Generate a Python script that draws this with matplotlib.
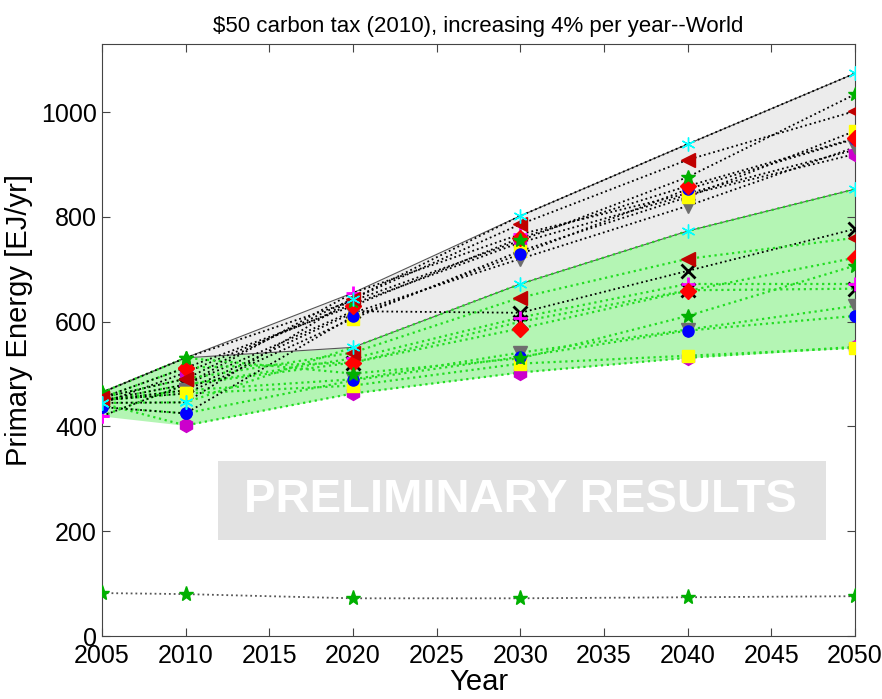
import numpy as np
import matplotlib as mpl
mpl.use('Agg')
import matplotlib.pyplot as plt
from matplotlib.patches import Rectangle

plt.rcParams['font.family'] = ['Liberation Sans', 'DejaVu Sans']
plt.rcParams['hatch.color'] = '#c4c4c4'
plt.rcParams['hatch.linewidth'] = 0.6

years = [2005, 2010, 2020, 2030, 2040, 2050]

## reference runs (black dotted) and policy runs (green dotted), EJ/yr
ref_cyan    = [445, 446, 644, 802, 939, 1074]
pol_cyan    = [445, 446, 551, 672, 773, 853]
ref_redtri  = [455, 491, 644, 786, 909, 1002]
pol_redtri  = [455, 491, 541, 646, 720, 760]
ref_green   = [465, 531, 640, 755, 876, 1034]
pol_green   = [465, 531, 501, 530, 611, 707]
ref_diamond = [455, 512, 630, 760, 859, 950]
pol_diamond = [455, 512, 522, 587, 659, 722]
ref_blue    = [437, 425, 610, 729, 853, 949]
pol_blue    = [437, 425, 488, 533, 583, 611]
ref_yellow  = [450, 463, 606, 735, 838, 964]
pol_yellow  = [450, 463, 478, 520, 535, 550]
ref_gray    = [450, 469, 617, 720, 821, 933]
pol_gray    = [450, 469, 490, 541, 585, 630]
ref_maghex  = [444, 503, 634, 751, 842, 920]
pol_maghex  = [444, 402, 463, 503, 531, 552]
ref_plus    = [420, 480, 655, 767, 845, 928]
pol_plus    = [420, 480, 530, 608, 672, 672]
ref_x       = [450, 480, 620, 617, 697, 777]
pol_x       = [450, 480, 522, 600, 660, 663]
other_green = [82, 80, 72, 72, 74, 76]

models = [
  (ref_x, pol_x, 'x', 'k'),
  (ref_plus, pol_plus, '+', '#ff00ff'),
  (ref_maghex, pol_maghex, 'h', '#cc00cc'),
  (ref_gray, pol_gray, 'v', '#6e6e6e'),
  (ref_yellow, pol_yellow, 's', '#ffff00'),
  (ref_blue, pol_blue, 'o', '#0000ff'),
  (ref_diamond, pol_diamond, 'D', '#ff0000'),
  (ref_green, pol_green, '*', '#00b000'),
  (ref_redtri, pol_redtri, '<', '#c00000'),
  (ref_cyan, pol_cyan, (6, 2, 0), '#00ffff'),
]

refs = np.array([m[0] for m in models])
pols = np.array([m[1] for m in models])
top = np.maximum(refs.max(axis=0), pols.max(axis=0))
polmax = pols.max(axis=0)
polmin = pols.min(axis=0)

fig = plt.figure(figsize=(8.82, 6.99), dpi=100)
ax = fig.add_axes([0.1156, 0.0901, 0.8538, 0.8469])

ax.fill_between(years, polmax, top, color='#ececec', lw=0, zorder=1)
ax.fill_between(years, polmin, polmax, color='#b4f5b4', lw=0, zorder=1)
ax.plot(years, top, '-', color='#555555', lw=0.8, zorder=2)
ax.plot(years, polmax, '-', color='#555555', lw=0.8, zorder=2)

for ref, pol, mk, c in models:
  ms = 8 if mk in ('D', 's', 'o') else 10
  ax.plot(years, pol, ':', color='#22dd22', lw=1.6, zorder=3)
  ax.plot(years, ref, ':', color='k', lw=1.3, zorder=3)
  for vals in (pol, ref):
    ax.plot(years, vals, ls='none', marker=mk, ms=ms, color=c,
            mec=c, mew=2 if mk in ('x', '+') else 1, zorder=4)

ax.plot(years, other_green, ':', color='#555555', lw=1.3, zorder=3)
ax.plot(years, other_green, ls='none', marker='*', ms=11, color='#00b000', zorder=4)

## watermark box
ax.add_patch(Rectangle((0.154, 0.162), 0.807, 0.134, transform=ax.transAxes,
                       facecolor='#e2e2e2', edgecolor='none', hatch='+++',
                       zorder=5))
ax.text(0.555, 0.229, 'PRELIMINARY RESULTS', transform=ax.transAxes,
        ha='center', va='center', color='white', fontsize=34,
        fontweight='bold', zorder=6)

ax.set_xlim(2005, 2050)
ax.set_ylim(0, 1130)
ax.set_xticks(range(2005, 2051, 5))
ax.set_yticks(range(0, 1001, 200))
ax.tick_params(direction='in', top=True, right=True, length=6,
               labelsize=18, color='#444444')
ax.tick_params(axis='x', pad=6)
for s in ax.spines.values():
  s.set_color('#444444')

ax.set_xlabel('Year', fontsize=21, labelpad=0)
ax.set_ylabel('Primary Energy [EJ/yr]', fontsize=21)
ax.yaxis.set_label_coords(-0.092, 0.534)
ax.set_title('$50 carbon tax (2010), increasing 4% per year--World', fontsize=16, pad=9)

fig.savefig('out.png', dpi=100)
